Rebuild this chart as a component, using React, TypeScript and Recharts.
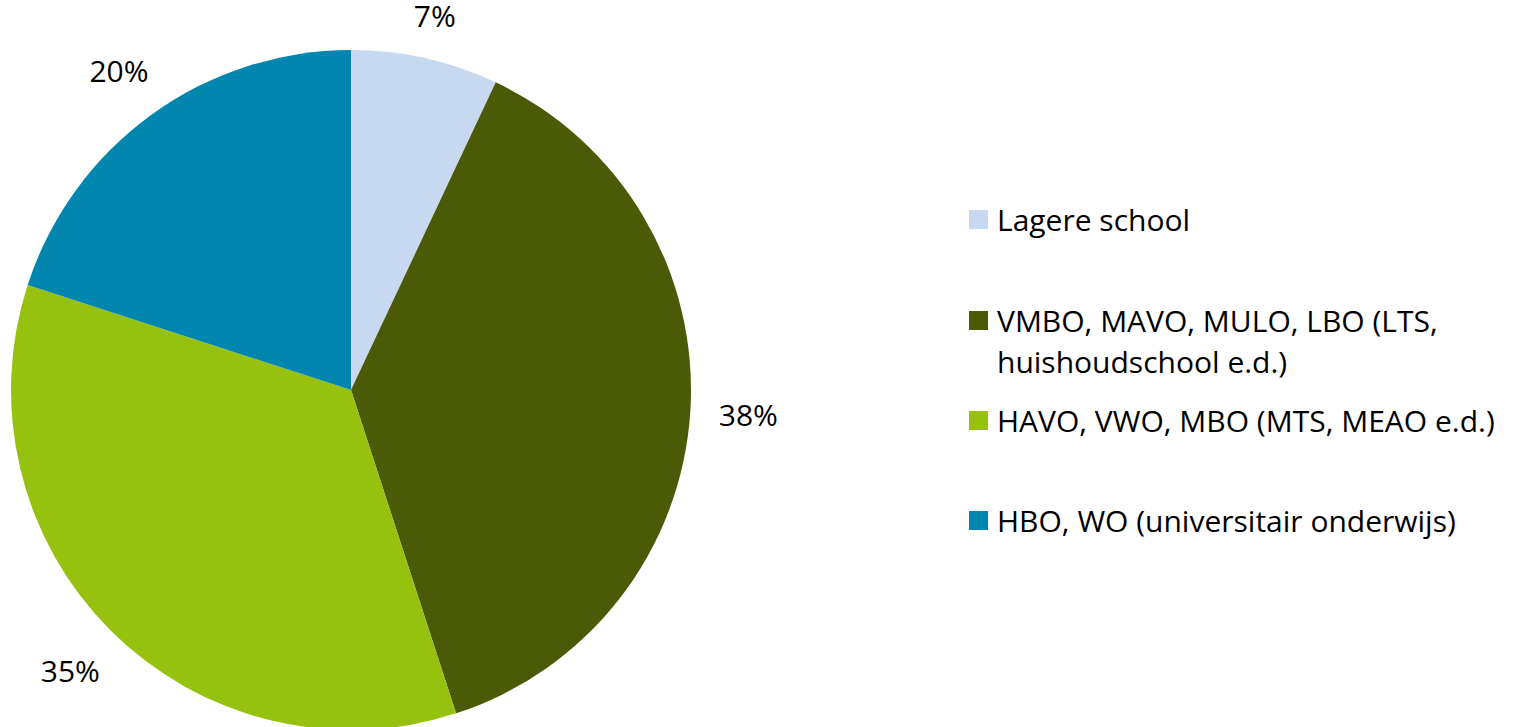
import { PieChart, Pie, Cell, Legend } from 'recharts';

const categories = [
  'Lagere school',
  'VMBO, MAVO, MULO, LBO (LTS, huishoudschool e.d.)',
  'HAVO, VWO, MBO (MTS, MEAO e.d.)',
  'HBO, WO (universitair onderwijs)',
];
const shares = [7, 38, 35, 20];
const colors = ['#C6D9F1', '#4A5A06', '#97C10F', '#0086AF'];

const data = categories.map((name, i) => ({ name, value: shares[i] }));

const FONT = '"Open Sans", sans-serif';
const FS = 30;
const RAD = Math.PI / 180;

// percent labels: the label box's nearest edge sits a fixed gap outside the pie
const renderLabel = (props: any) => {
  const { cx, cy, midAngle, outerRadius, value } = props;
  const text = `${value}%`;
  const w = text.length * 19;
  const h = 22;
  const c = Math.cos(-midAngle * RAD);
  const s = Math.sin(-midAngle * RAD);
  const r = outerRadius + 29 + (w / 2) * Math.abs(c) + (h / 2) * Math.abs(s);
  return (
    <text x={cx + r * c} y={cy + r * s} textAnchor="middle" dominantBaseline="central" fill="#000" fontSize={FS} fontFamily={FONT}>
      {text}
    </text>
  );
};

// Excel-like legend spacing (gaps between entries are not uniform)
const gaps = [0, 60, 18, 59];

const renderLegend = () => (
  <div style={{ fontFamily: FONT, fontSize: FS, color: '#000', lineHeight: '41px' }}>
    {data.map((d, i) => (
      <div key={`leg-${i}`} style={{ display: 'flex', alignItems: 'flex-start', marginTop: gaps[i] }}>
        <span style={{ width: 19, height: 19, background: colors[i], marginTop: 11, marginRight: 9, flexShrink: 0 }} />
        <span style={{ width: 540 }}>{d.name}</span>
      </div>
    ))}
  </div>
);

export default function App() {
  return (
    <div style={{ position: 'absolute', left: 0, top: 0, background: '#fff' }}>
      <PieChart width={1534} height={727} margin={{ top: 0, right: 0, bottom: 0, left: 0 }}>
        <Pie
          data={data}
          dataKey="value"
          nameKey="name"
          cx={351}
          cy={390}
          outerRadius={340}
          startAngle={90}
          endAngle={-270}
          stroke="none"
          label={renderLabel}
          labelLine={false}
          isAnimationActive={false}
        >
          {data.map((d, i) => (
            <Cell key={`cell-${i}`} fill={colors[i]} />
          ))}
        </Pie>
        <Legend
          layout="vertical"
          content={renderLegend}
          wrapperStyle={{ position: 'absolute', left: 969, top: 199, width: 565 }}
        />
      </PieChart>
    </div>
  );
}
